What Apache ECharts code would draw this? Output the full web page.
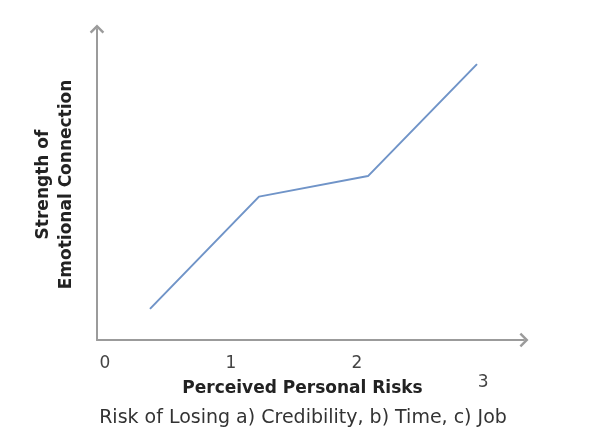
<!DOCTYPE html>
<html><head><meta charset="utf-8">
<script src="https://cdn.jsdelivr.net/npm/echarts@6/dist/echarts.min.js"></script>
<style>html,body{margin:0;padding:0;background:#fff}#c{width:606px;height:440px}</style>
</head><body><div id="c"></div>
<script>
const xValues = [0.357, 1.222, 2.087, 2.952];
const yValues = [1.0, 4.61, 5.27, 8.87];
const tickValues = [0, 1, 2, 3];
const tickLabels = ['0', '1', '2', '3'];
const xTitle = 'Perceived Personal Risks';
const subTitle = 'Risk of Losing a) Credibility, b) Time, c) Job';
const yTitle = 'Strength of\nEmotional Connection';

const FONT = '"DejaVu Sans", sans-serif';
const AXIS_COLOR = '#9b9b9b';
const chevron = 'path://M50 0 L100 50 L88 62 L50 24 L12 62 L0 50 Z';

const chart = echarts.init(document.getElementById('c'), null, {renderer: 'canvas'});
chart.setOption({
  animation: false,
  backgroundColor: '#fff',
  title: {
    text: subTitle,
    left: 'center',
    top: 404,
    textStyle: {fontFamily: FONT, fontSize: 19, fontWeight: 'normal', color: '#333'}
  },
  grid: {left: 97, right: 82, top: 29, bottom: 100, containLabel: false},
  xAxis: {
    type: 'value',
    min: -0.0635,
    max: 3.325,
    splitLine: {show: false},
    axisTick: {show: false},
    axisLine: {
      show: true, onZero: false,
      lineStyle: {color: AXIS_COLOR, width: 2},
      symbol: ['none', chevron],
      symbolSize: [16, 9]
    },
    axisLabel: {
      show: true,
      customValues: tickValues,
      margin: 15,
      formatter: function (v) {
        const i = tickValues.indexOf(Math.round(v));
        const t = i >= 0 ? tickLabels[i] : '';
        return i === 3 ? '{low|' + t + '}' : t;
      },
      fontFamily: FONT, fontSize: 17, color: '#444',
      rich: {low: {fontFamily: FONT, fontSize: 17, color: '#444', padding: [19, 0, 0, 0]}}
    },
    name: xTitle,
    nameLocation: 'middle',
    nameGap: 40,
    nameMoveOverlap: false,
    nameTextStyle: {fontFamily: FONT, fontSize: 17, fontWeight: 'bold', color: '#222', padding: [0, 16, 0, 0]}
  },
  yAxis: {
    type: 'value',
    min: 0,
    max: 10,
    splitLine: {show: false},
    axisTick: {show: false},
    axisLabel: {show: false},
    axisLine: {
      show: true, onZero: false,
      lineStyle: {color: AXIS_COLOR, width: 2},
      symbol: ['none', chevron],
      symbolSize: [16, 9]
    },
    name: yTitle,
    nameLocation: 'middle',
    nameRotate: 90,
    nameGap: 19,
    nameMoveOverlap: false,
    nameTextStyle: {fontFamily: FONT, fontSize: 17, fontWeight: 'bold', color: '#222', lineHeight: 23, align: 'center'}
  },
  series: [{
    type: 'line',
    data: xValues.map((x, i) => [x, yValues[i]]),
    showSymbol: false,
    lineStyle: {color: '#7094c8', width: 2},
    itemStyle: {color: '#7094c8'}
  }]
});
</script></body></html>
